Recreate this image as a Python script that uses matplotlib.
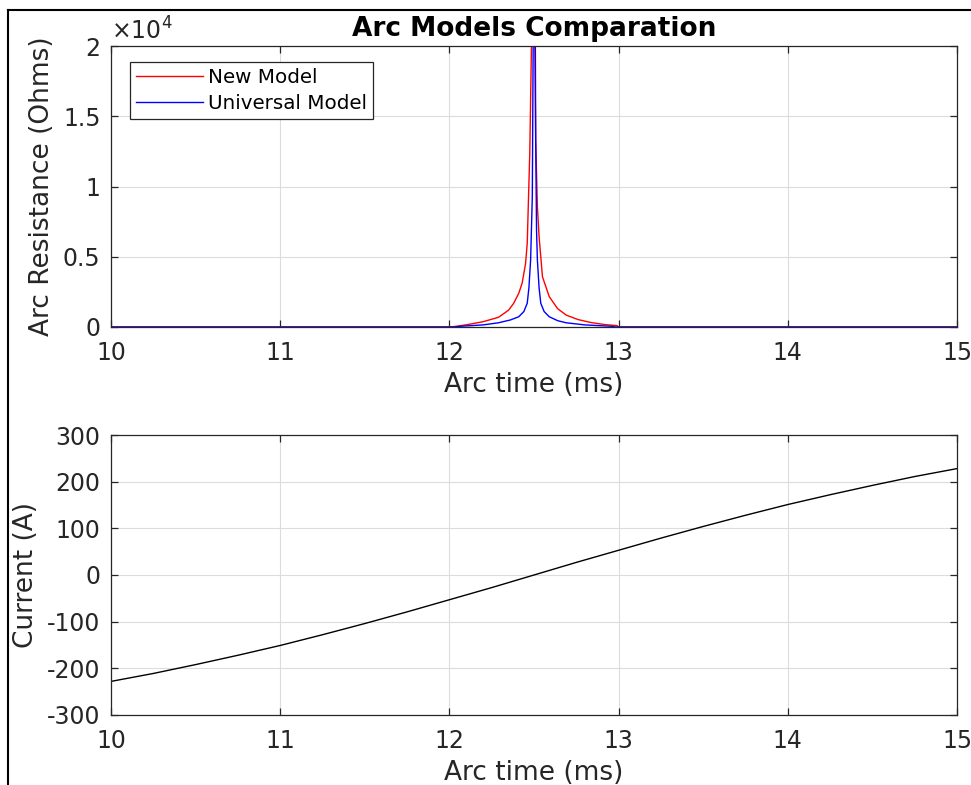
import numpy as np
import matplotlib
matplotlib.use("Agg")
from matplotlib import pyplot as plt
from matplotlib.lines import Line2D

plt.rcParams["axes.unicode_minus"] = False

# resistenza d'arco (ms, Ohm)
t_new = [10.0, 12.0, 12.05, 12.12, 12.2, 12.29, 12.35, 12.38, 12.41, 12.43, 12.45, 12.46,
         12.475, 12.485, 12.49, 12.50, 12.505, 12.51, 12.52, 12.53, 12.55, 12.59, 12.64,
         12.69, 12.76, 12.84, 12.92, 12.99, 13.0, 15.0]
r_new = [0, 0, 60, 200, 380, 690, 1200, 1690, 2400, 3130, 4500, 5960,
         12370, 20000, 30000, 30000, 20000, 13300, 8570, 6430, 3580, 2160, 1300,
         850, 530, 310, 170, 100, 0, 0]

t_univ = [10.0, 12.03, 12.05, 12.2, 12.29, 12.36, 12.41, 12.44, 12.46, 12.47, 12.48, 12.49,
          12.495, 12.50, 12.505, 12.51, 12.515, 12.52, 12.53, 12.54, 12.56, 12.59, 12.64,
          12.69, 12.8, 12.96, 12.98, 15.0]
r_univ = [0, 0, 40, 150, 300, 500, 730, 1100, 1690, 2800, 4770, 9280,
          20000, 30000, 30000, 13300, 6900, 4770, 2800, 1690, 1100, 730, 450,
          300, 150, 50, 0, 0]

# corrente
t_cur = [10.0, 10.25, 10.5, 10.75, 11.0, 11.25, 11.5, 11.75, 12.0, 12.25, 12.5,
         12.75, 13.0, 13.25, 13.5, 13.75, 14.0, 14.25, 14.5, 14.75, 15.0]
i_cur = [-228, -211, -192, -172, -151, -128, -104, -79, -53, -27, 0,
         27, 53, 79, 104, 128, 151, 172, 192, 211, 228]

res_ticks = [0, 5000, 10000, 15000, 20000]
res_labels = ["0", "0.5", "1", "1.5", "2"]
cur_ticks = [-300, -200, -100, 0, 100, 200, 300]
time_ticks = [10, 11, 12, 13, 14, 15]

W, H = 971, 785
fig = plt.figure(figsize=(W / 100, H / 100), dpi=100)

dark = "#262626"
fs_tick = 17
fs_lab = 19


def style(ax):
    ax.set_xlim(10, 15)
    ax.set_xticks(time_ticks)
    ax.grid(True, color="#dcdcdc", lw=0.8)
    ax.set_axisbelow(True)
    for s in ax.spines.values():
        s.set_color(dark)
        s.set_linewidth(0.9)
    ax.tick_params(direction="in", length=5, width=0.9, color=dark, labelcolor=dark,
                   labelsize=fs_tick, top=True, right=True)
    ax.tick_params(axis="x", pad=10)
    ax.tick_params(axis="y", pad=7.5)
    ax.set_xlabel("Arc time (ms)", fontsize=fs_lab, color=dark, labelpad=5)


ax1 = fig.add_axes([111 / W, 1 - 327 / H, 846 / W, 281 / H])
ax1.plot(t_new, r_new, color="red", lw=1.0, label="New Model")
ax1.plot(t_univ, r_univ, color="blue", lw=1.0, label="Universal Model")
ax1.set_ylim(0, 20000)
ax1.set_yticks(res_ticks)
ax1.set_yticklabels(res_labels)
style(ax1)
ax1.set_ylabel("Arc Resistance (Ohms)", fontsize=fs_lab, color=dark, labelpad=6)
ax1.text(0.0, 1.005, r"$\times10^4$", transform=ax1.transAxes, fontsize=fs_tick,
         color=dark, ha="left", va="bottom")
ax1.set_title("Arc Models Comparation", fontsize=19, fontweight="bold", pad=7)
leg = ax1.legend(loc="upper left", bbox_to_anchor=(0.0225, 0.943), fontsize=14.3,
                 fancybox=False, framealpha=1, edgecolor=dark, handlelength=3.35,
                 borderaxespad=0, borderpad=0.3, labelspacing=0.35, handletextpad=0.3)
leg.get_frame().set_linewidth(0.9)

ax2 = fig.add_axes([111 / W, 1 - 715 / H, 846 / W, 280 / H])
ax2.plot(t_cur, i_cur, color="black", lw=1.0)
ax2.set_ylim(-300, 300)
ax2.set_yticks(cur_ticks)
style(ax2)
ax2.set_ylabel("Current (A)", fontsize=fs_lab, color=dark, labelpad=6)

# cornice della finestra
fig.add_artist(Line2D([8 / W, 1], [1 - 10 / H, 1 - 10 / H], color="black", lw=1.5,
                      transform=fig.transFigure))
fig.add_artist(Line2D([8 / W, 8 / W], [0, 1 - 10 / H], color="black", lw=1.5,
                      transform=fig.transFigure))

fig.savefig("out.png", dpi=100)
